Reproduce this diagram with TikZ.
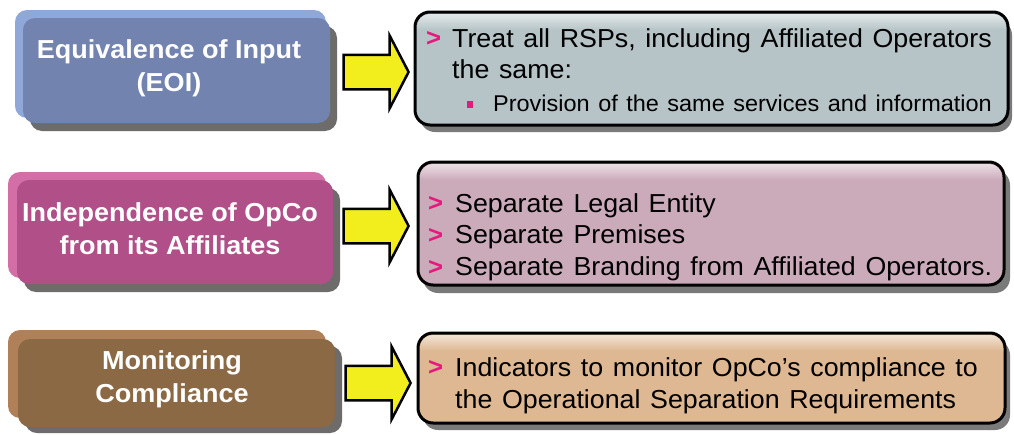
\documentclass[tikz,border=0pt]{standalone}
\usepackage{fontspec}
\setmainfont{Liberation Sans}[FakeStretch=1.04]
\newfontfamily\rfont{Liberation Sans}[FakeStretch=1.03,WordSpace=1.3]
\usetikzlibrary{shapes.arrows}
\definecolor{hlA}{HTML}{8FA7D9}
\definecolor{mnA}{HTML}{7183AE}
\definecolor{hlB}{HTML}{D36EA6}
\definecolor{mnB}{HTML}{B04F88}
\definecolor{hlC}{HTML}{B08058}
\definecolor{mnC}{HTML}{8C6945}
\definecolor{shd}{HTML}{6E6B6B}
\definecolor{rshd}{HTML}{7A7A7A}
\definecolor{rA}{HTML}{B6C4C7}
\definecolor{rB}{HTML}{CBAABA}
\definecolor{rC}{HTML}{DDB892}
\definecolor{yel}{HTML}{F2EE1E}
\definecolor{pk}{HTML}{E6197D}
\tikzset{
  lbox/.style={rounded corners=12pt, inner sep=0pt, draw=none},
  ltext/.style={align=center, text=white, inner sep=0pt, font=\bfseries\fontsize{26}{33}\selectfont},
  rbox/.style={rounded corners=15pt, draw=black, line width=3pt, inner sep=0pt},
  rtext/.style={anchor=base west, inner sep=0pt, font=\rfont\fontsize{26}{30}\selectfont},
  stext/.style={anchor=base west, inner sep=0pt, font=\rfont\fontsize{22.8}{26}\selectfont},
  gt/.style={anchor=base west, inner sep=0pt, text=pk, font=\rfont\bfseries\fontsize{25}{30}\selectfont},
  yarrow/.style={single arrow, draw=black, line width=2.5pt, fill=yel, inner sep=0pt,
    inner ysep=16pt, minimum height=65pt, single arrow head extend=19pt,
    single arrow tip angle=125, anchor=tip},
}
\begin{document}
\begin{tikzpicture}[x=1pt,y=-1pt]
\useasboundingbox (0,0) rectangle (1014,434);
% ---------- left boxes ----------
\fill[shd, rounded corners=12pt] (30,26) rectangle (337,131);
\fill[hlA, rounded corners=12pt] (15,10) rectangle (326,118);
\node[lbox, fill=mnA, minimum width=307pt, minimum height=105pt] (l1) at (176.5,70.5) {};
\node[ltext] (l1t) at (169,68) {Equivalence of Input\\(EOI)};

\fill[shd, rounded corners=12pt] (24,188) rectangle (340,292);
\fill[hlB, rounded corners=12pt] (8,172) rectangle (326,278);
\node[lbox, fill=mnB, minimum width=316pt, minimum height=104pt] (l2) at (175,232) {};
\node[ltext] (l2t) at (170,229) {Independence of OpCo\\from its Affiliates};

\fill[shd, rounded corners=12pt] (25,346) rectangle (342,433);
\fill[hlC, rounded corners=12pt] (8,330) rectangle (326,418);
\node[lbox, fill=mnC, minimum width=317pt, minimum height=88pt] (l3) at (176.5,383) {};
\node[ltext] (l3t) at (172,379) {Monitoring\\Compliance};

% ---------- right boxes ----------
\fill[rshd, rounded corners=15pt] (420,20) rectangle (1012,132);
\node[rbox, fill=rA, minimum width=593pt, minimum height=113pt] (r1) at (711.5,68.5) {};
\begin{scope}
  \clip[rounded corners=13pt] (417,14) rectangle (1006,123);
  \shade[top color=white!60!rA, bottom color=rA] (417,14) rectangle (1006,30);
\end{scope}

\fill[rshd, rounded corners=15pt] (423,170) rectangle (1010,293);
\node[rbox, fill=rB, minimum width=586pt, minimum height=123pt] (r2) at (711,223.5) {};
\begin{scope}
  \clip[rounded corners=13pt] (420,164) rectangle (1002,283);
  \shade[top color=white!60!rB, bottom color=rB] (420,164) rectangle (1002,180);
\end{scope}

\fill[rshd, rounded corners=15pt] (423,340) rectangle (1010,430);
\node[rbox, fill=rC, minimum width=587pt, minimum height=90pt] (r3) at (711.5,378) {};
\begin{scope}
  \clip[rounded corners=13pt] (420,335) rectangle (1003,421);
  \shade[top color=white!60!rC, bottom color=rC] (420,335) rectangle (1003,351);
\end{scope}

% ---------- arrows ----------
\node[yarrow] (a1) at (410,72) {};
\node[yarrow] (a2) at (410,226) {};
\node[yarrow] (a3) at (412,383) {};

% ---------- texts ----------
\node[gt] (g11) at (426,46) {>};
\node[rtext] (t11) at (452,47) {Treat all RSPs, including Affiliated Operators};
\node[rtext] (t12) at (452,78) {the same:};
\fill[pk] (467,101) rectangle (473,108);
\node[stext] (t13) at (493,111) {Provision of the same services and information};

\node[gt] (g21) at (428,211) {>};
\node[rtext] (t21) at (455,212) {Separate Legal Entity};
\node[gt] (g22) at (428,243) {>};
\node[rtext] (t22) at (455,243.5) {Separate Premises};
\node[gt] (g23) at (428,275) {>};
\node[rtext] (t23) at (455,275.5) {Separate Branding from Affiliated Operators.};

\node[gt] (g31) at (428,375) {>};
\node[rtext] (t31) at (455,376) {Indicators to monitor OpCo’s compliance to};
\node[rtext] (t32) at (455,408) {the Operational Separation Requirements};
\end{tikzpicture}
\end{document}
